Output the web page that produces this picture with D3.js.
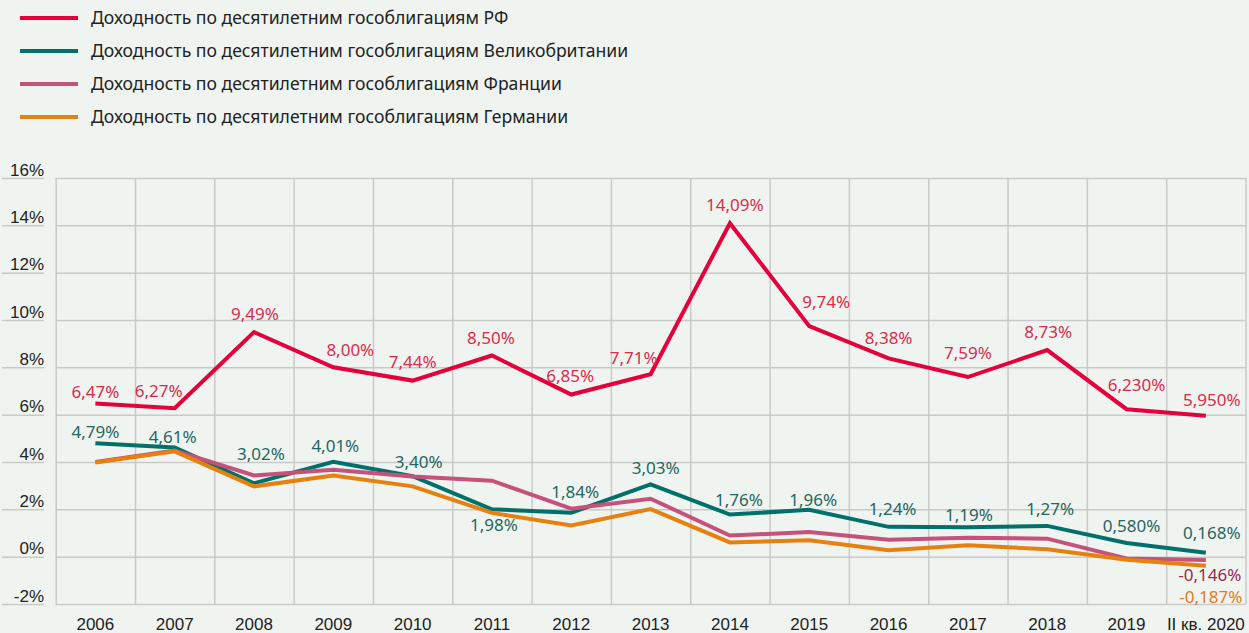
<!DOCTYPE html>
<html>
<head>
<meta charset="utf-8">
<script src="https://cdn.jsdelivr.net/npm/d3@7"></script>
<style>
	html, body { margin: 0; padding: 0; background: #f0f4f1; }
	svg { display: block; font-family: "Noto Sans", "Open Sans", sans-serif; }
	.grid line { stroke: #c9c9c9; stroke-width: 1.5; }
	.grid path { display: none; }
	.axis-left line { stroke: #c9c9c9; stroke-width: 1.5; }
	.axis-left path, .axis-bottom path, .axis-bottom line { display: none; }
	.axis text { fill: #222; font-size: 17px; }
	.graph-line { fill: none; stroke-width: 4; stroke-linejoin: miter; }
	.point-label { font-size: 17px; text-anchor: middle; }
	.legend text { fill: #222; font-size: 17.6px; }
</style>
</head>
<body>
<div id="chart"></div>
<script>
(function () {
	'use strict';

	// ---- data ----
	var years = ['2006', '2007', '2008', '2009', '2010', '2011', '2012', '2013', '2014', '2015', '2016', '2017', '2018', '2019', 'II кв. 2020'];
	var yTicks = [-2, 0, 2, 4, 6, 8, 10, 12, 14, 16];

	var russia = [6.47, 6.27, 9.49, 8.00, 7.44, 8.50, 6.85, 7.71, 14.09, 9.74, 8.38, 7.59, 8.73, 6.23, 5.95];
	var britain = [4.79, 4.61, 3.10, 4.01, 3.40, 2.00, 1.86, 3.05, 1.78, 1.98, 1.26, 1.24, 1.30, 0.58, 0.168];
	var france = [4.00, 4.48, 3.43, 3.67, 3.39, 3.21, 2.03, 2.45, 0.89, 1.04, 0.72, 0.80, 0.76, -0.08, -0.146];
	var germany = [3.98, 4.45, 2.97, 3.43, 2.97, 1.85, 1.32, 2.01, 0.60, 0.69, 0.27, 0.48, 0.31, -0.13, -0.38];

	var russiaLabels = ['6,47%', '6,27%', '9,49%', '8,00%', '7,44%', '8,50%', '6,85%', '7,71%', '14,09%', '9,74%', '8,38%', '7,59%', '8,73%', '6,230%', '5,950%'];
	var britainLabels = ['4,79%', '4,61%', '3,02%', '4,01%', '3,40%', '1,98%', '1,84%', '3,03%', '1,76%', '1,96%', '1,24%', '1,19%', '1,27%', '0,580%', '0,168%'];
	var franceLabels = [null, null, null, null, null, null, null, null, null, null, null, null, null, null, '-0,146%'];
	var germanyLabels = [null, null, null, null, null, null, null, null, null, null, null, null, null, null, '-0,187%'];

	var legendNames = [
		'Доходность по десятилетним гособлигациям РФ',
		'Доходность по десятилетним гособлигациям Великобритании',
		'Доходность по десятилетним гособлигациям Франции',
		'Доходность по десятилетним гособлигациям Германии'
	];

	// label placement relative to the point [dx, dy]
	var russiaNudge = [[0, -6], [-16, -11], [1, -12], [17, -11], [0, -13], [-1, -12], [-1, -13], [-17, -10], [5, -12], [17, -18], [0, -14], [0, -18], [1, -12], [10, -18], [6, -10]];
	var britainNudge = [[0, -5], [-2, -5], [7, -23], [2, -10], [6, -8], [2, 22], [4, -15], [5, -10], [9, -9], [4, -4], [4, -12], [1, -6], [3, -11], [5, -11], [6, -14]];
	var franceNudge = [[4, 21]];
	var germanyNudge = [[5, 37]];

	var series = [
		{ values: britain, labels: britainLabels, nudge: britainNudge, line: '#00706a', text: '#25665f' },
		{ values: france, labels: franceLabels, nudge: franceNudge, line: '#c5527a', text: '#9b2a4b' },
		{ values: germany, labels: germanyLabels, nudge: germanyNudge, line: '#e6800f', text: '#e07b22' },
		{ values: russia, labels: russiaLabels, nudge: russiaNudge, line: '#e4003b', text: '#dc2b4b' }
	];
	var legendColors = ['#e4003b', '#00706a', '#c5527a', '#e6800f'];

	// ---- layout ----
	var width = 1249,
		height = 633,
		plot = { left: 55.7, right: 1245.5, top: 178, bottom: 604 };

	var svg = d3.select('#chart')
		.append('svg')
		.attr('width', width)
		.attr('height', height);

	var xScale = d3.scaleBand().domain(years).range([plot.left, plot.right]),
		xEdge = d3.scaleLinear().domain([0, years.length]).range([plot.left, plot.right]),
		yScale = d3.scaleLinear().domain([-2, 16]).range([plot.bottom, plot.top]);

	// horizontal grid
	svg.append('g')
		.attr('class', 'grid')
		.attr('transform', 'translate(' + plot.left + ',0)')
		.call(d3.axisLeft(yScale).tickValues(yTicks).tickSize(-(plot.right - plot.left)).tickFormat(''));

	// vertical grid
	svg.append('g')
		.attr('class', 'grid')
		.attr('transform', 'translate(0,' + plot.bottom + ')')
		.call(d3.axisBottom(xEdge).tickValues(d3.range(years.length + 1)).tickSize(-(plot.bottom - plot.top)).tickFormat(''));

	// y axis: labels sitting on short rules
	var axisLeft = svg.append('g')
		.attr('class', 'axis axis-left')
		.attr('transform', 'translate(44,0)')
		.call(d3.axisLeft(yScale).tickValues(yTicks).tickSize(42).tickFormat(function (d) { return d + '%'; }));
	axisLeft.selectAll('text')
		.attr('x', 0)
		.attr('dy', -3)
		.attr('text-anchor', 'end');

	// x axis
	var axisBottom = svg.append('g')
		.attr('class', 'axis axis-bottom')
		.attr('transform', 'translate(0,' + plot.bottom + ')')
		.call(d3.axisBottom(xScale).tickSize(0));
	axisBottom.selectAll('text')
		.attr('y', 26)
		.attr('dy', 0);

	var line = d3.line()
		.x(function (d, i) { return xScale(years[i]) + xScale.bandwidth() / 2; })
		.y(function (d) { return yScale(d); });

	series.forEach(function (s) {
		svg.append('path')
			.datum(s.values)
			.attr('class', 'graph-line')
			.attr('stroke', s.line)
			.attr('d', line);
	});

	series.forEach(function (s) {
		var pts = [];
		s.labels.forEach(function (t, i) {
			if (t) {
				pts.push({ i: i, text: t });
			}
		});
		svg.append('g')
			.selectAll('text')
			.data(pts)
			.join('text')
			.attr('class', 'point-label')
			.attr('fill', s.text)
			.attr('x', function (d, k) {
				var n = s.nudge.length === s.labels.length ? s.nudge[d.i] : s.nudge[k];
				return xScale(years[d.i]) + xScale.bandwidth() / 2 + n[0];
			})
			.attr('y', function (d, k) {
				var n = s.nudge.length === s.labels.length ? s.nudge[d.i] : s.nudge[k];
				return yScale(s.values[d.i]) + n[1];
			})
			.text(function (d) { return d.text; });
	});

	// legend
	var legend = svg.append('g').attr('class', 'legend');
	legendNames.forEach(function (name, i) {
		var row = legend.append('g').attr('transform', 'translate(0,' + (18 + i * 33) + ')');
		row.append('line')
			.attr('x1', 20)
			.attr('x2', 78)
			.attr('stroke', legendColors[i])
			.attr('stroke-width', 4);
		row.append('text')
			.attr('x', 91)
			.attr('dy', '0.35em')
			.text(name);
	});
}());
</script>
</body>
</html>
